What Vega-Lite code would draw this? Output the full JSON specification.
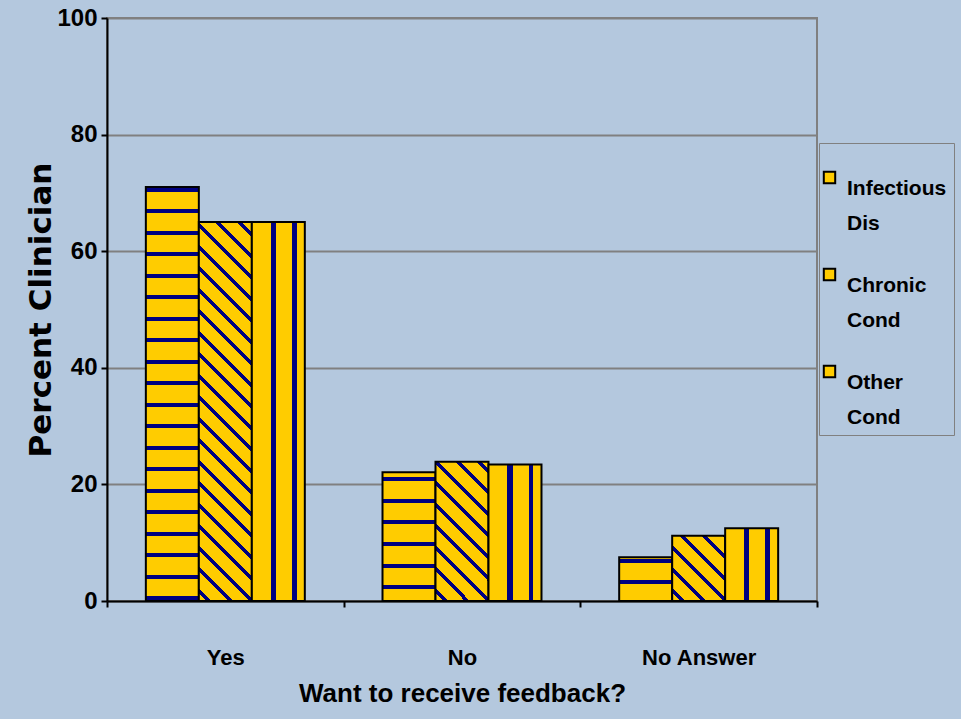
{
  "$schema": "https://vega.github.io/schema/vega-lite/v6.json",
  "autosize": "none",
  "width": 710,
  "height": 583,
  "padding": {"left": 107, "top": 18, "right": 144, "bottom": 118},
  "background": "#B4C8DE",
  "data": {
    "values": [
      {"answer": "Yes", "series": "Infectious Dis", "percent": 71},
      {"answer": "Yes", "series": "Chronic Cond", "percent": 65},
      {"answer": "Yes", "series": "Other Cond", "percent": 65},
      {"answer": "No", "series": "Infectious Dis", "percent": 22.1},
      {"answer": "No", "series": "Chronic Cond", "percent": 23.9},
      {"answer": "No", "series": "Other Cond", "percent": 23.4},
      {"answer": "No Answer", "series": "Infectious Dis", "percent": 7.5},
      {"answer": "No Answer", "series": "Chronic Cond", "percent": 11.2},
      {"answer": "No Answer", "series": "Other Cond", "percent": 12.5}
    ]
  },
  "mark": {"type": "bar", "stroke": "#000000", "strokeWidth": 2},
  "encoding": {
    "x": {
      "field": "answer", "type": "nominal", "sort": ["Yes", "No", "No Answer"],
      "scale": {"paddingInner": 0, "paddingOuter": 0},
      "axis": {
        "title": "Want to receive feedback?", "labelAngle": 0, "tickBand": "extent",
        "domainColor": "#000000", "domainWidth": 2, "tickColor": "#000000", "tickWidth": 2, "tickSize": 6,
        "labelFont": "Liberation Sans", "labelFontSize": 22, "labelFontWeight": "bold", "labelColor": "#000000",
        "labelBaseline": "alphabetic", "labelPadding": 57,
        "titleFont": "Liberation Sans", "titleFontSize": 26, "titleFontWeight": "bold", "titleColor": "#000000",
        "titleBaseline": "alphabetic", "titleY": 100
      }
    },
    "xOffset": {"field": "series", "type": "nominal", "sort": ["Infectious Dis", "Chronic Cond", "Other Cond"],
      "scale": {"paddingInner": 0, "paddingOuter": 0.733}},
    "y": {
      "field": "percent", "type": "quantitative",
      "scale": {"domain": [0, 100]},
      "axis": {
        "title": "Percent Clinician", "values": [0, 20, 40, 60, 80, 100],
        "grid": true, "gridColor": "#808080", "gridWidth": 2,
        "domainColor": "#000000", "domainWidth": 2, "tickColor": "#000000", "tickWidth": 2, "tickSize": 6,
        "labelFont": "Liberation Sans", "labelFontSize": 24, "labelFontWeight": "bold", "labelColor": "#000000", "labelPadding": 4,
        "titleFont": "DejaVu Sans", "titleFontSize": 31, "titleFontWeight": "bold", "titleColor": "#000000",
        "titleBaseline": "alphabetic", "titleX": -57, "titleAngle": 270
      }
    },
    "fill": {
      "field": "series", "type": "nominal",
      "scale": {"domain": ["Infectious Dis", "Chronic Cond", "Other Cond"], "range": ["#FFCC00", "#FFCC00", "#FFCC00"]},
      "legend": {
        "orient": "none", "legendX": 712, "legendY": 125,
        "title": " ", "titleFontSize": 14, "titlePadding": 3,
        "padding": 7, "strokeColor": "#808080",
        "symbolType": "square", "symbolSize": 130, "symbolOffset": -7, "symbolStrokeColor": "#000000", "symbolStrokeWidth": 2,
        "labelOffset": 7, "labelBaseline": "top", "labelLimit": 200,
        "labelFont": "Liberation Sans", "labelFontSize": 21, "labelFontWeight": "bold", "labelColor": "#000000",
        "labelExpr": "split(datum.label, ' ')",
        "rowPadding": 30
      },
      "condition": [
        {"test": "datum.series === 'Other Cond'", "value": {"gradient": "linear", "x1": 0, "y1": 0, "x2": 1, "y2": 0, "stops": [
          {"offset": 0, "color": "#FFCC00"},
          {"offset": 0.358, "color": "#FFCC00"}, {"offset": 0.358, "color": "#000080"}, {"offset": 0.453, "color": "#000080"}, {"offset": 0.453, "color": "#FFCC00"},
          {"offset": 0.755, "color": "#FFCC00"}, {"offset": 0.755, "color": "#000080"}, {"offset": 0.849, "color": "#000080"}, {"offset": 0.849, "color": "#FFCC00"},
          {"offset": 1, "color": "#FFCC00"}
        ]}},
        {"test": "datum.series === 'Infectious Dis' && datum.answer === 'Yes'", "value": {"gradient": "linear", "x1": 0, "y1": 0, "x2": 0, "y2": 1, "stops": [
          {"offset": 0, "color": "#FFCC00"},
          {"offset": 0.0012, "color": "#FFCC00"}, {"offset": 0.0012, "color": "#000080"}, {"offset": 0.0109, "color": "#000080"}, {"offset": 0.0109, "color": "#FFCC00"},
          {"offset": 0.0532, "color": "#FFCC00"}, {"offset": 0.0532, "color": "#000080"}, {"offset": 0.0628, "color": "#000080"}, {"offset": 0.0628, "color": "#FFCC00"},
          {"offset": 0.1051, "color": "#FFCC00"}, {"offset": 0.1051, "color": "#000080"}, {"offset": 0.1148, "color": "#000080"}, {"offset": 0.1148, "color": "#FFCC00"},
          {"offset": 0.1570, "color": "#FFCC00"}, {"offset": 0.1570, "color": "#000080"}, {"offset": 0.1667, "color": "#000080"}, {"offset": 0.1667, "color": "#FFCC00"},
          {"offset": 0.2090, "color": "#FFCC00"}, {"offset": 0.2090, "color": "#000080"}, {"offset": 0.2187, "color": "#000080"}, {"offset": 0.2187, "color": "#FFCC00"},
          {"offset": 0.2609, "color": "#FFCC00"}, {"offset": 0.2609, "color": "#000080"}, {"offset": 0.2706, "color": "#000080"}, {"offset": 0.2706, "color": "#FFCC00"},
          {"offset": 0.3129, "color": "#FFCC00"}, {"offset": 0.3129, "color": "#000080"}, {"offset": 0.3225, "color": "#000080"}, {"offset": 0.3225, "color": "#FFCC00"},
          {"offset": 0.3648, "color": "#FFCC00"}, {"offset": 0.3648, "color": "#000080"}, {"offset": 0.3745, "color": "#000080"}, {"offset": 0.3745, "color": "#FFCC00"},
          {"offset": 0.4168, "color": "#FFCC00"}, {"offset": 0.4168, "color": "#000080"}, {"offset": 0.4264, "color": "#000080"}, {"offset": 0.4264, "color": "#FFCC00"},
          {"offset": 0.4687, "color": "#FFCC00"}, {"offset": 0.4687, "color": "#000080"}, {"offset": 0.4784, "color": "#000080"}, {"offset": 0.4784, "color": "#FFCC00"},
          {"offset": 0.5207, "color": "#FFCC00"}, {"offset": 0.5207, "color": "#000080"}, {"offset": 0.5303, "color": "#000080"}, {"offset": 0.5303, "color": "#FFCC00"},
          {"offset": 0.5726, "color": "#FFCC00"}, {"offset": 0.5726, "color": "#000080"}, {"offset": 0.5823, "color": "#000080"}, {"offset": 0.5823, "color": "#FFCC00"},
          {"offset": 0.6245, "color": "#FFCC00"}, {"offset": 0.6245, "color": "#000080"}, {"offset": 0.6342, "color": "#000080"}, {"offset": 0.6342, "color": "#FFCC00"},
          {"offset": 0.6765, "color": "#FFCC00"}, {"offset": 0.6765, "color": "#000080"}, {"offset": 0.6862, "color": "#000080"}, {"offset": 0.6862, "color": "#FFCC00"},
          {"offset": 0.7284, "color": "#FFCC00"}, {"offset": 0.7284, "color": "#000080"}, {"offset": 0.7381, "color": "#000080"}, {"offset": 0.7381, "color": "#FFCC00"},
          {"offset": 0.7804, "color": "#FFCC00"}, {"offset": 0.7804, "color": "#000080"}, {"offset": 0.7900, "color": "#000080"}, {"offset": 0.7900, "color": "#FFCC00"},
          {"offset": 0.8323, "color": "#FFCC00"}, {"offset": 0.8323, "color": "#000080"}, {"offset": 0.8420, "color": "#000080"}, {"offset": 0.8420, "color": "#FFCC00"},
          {"offset": 0.8843, "color": "#FFCC00"}, {"offset": 0.8843, "color": "#000080"}, {"offset": 0.8939, "color": "#000080"}, {"offset": 0.8939, "color": "#FFCC00"},
          {"offset": 0.9362, "color": "#FFCC00"}, {"offset": 0.9362, "color": "#000080"}, {"offset": 0.9459, "color": "#000080"}, {"offset": 0.9459, "color": "#FFCC00"},
          {"offset": 0.9882, "color": "#FFCC00"}, {"offset": 0.9882, "color": "#000080"}, {"offset": 0.9978, "color": "#000080"}, {"offset": 0.9978, "color": "#FFCC00"},
          {"offset": 1, "color": "#FFCC00"}
        ]}},
        {"test": "datum.series === 'Infectious Dis' && datum.answer === 'No'", "value": {"gradient": "linear", "x1": 0, "y1": 0, "x2": 0, "y2": 1, "stops": [
          {"offset": 0, "color": "#FFCC00"},
          {"offset": 0.0388, "color": "#FFCC00"}, {"offset": 0.0388, "color": "#000080"}, {"offset": 0.0699, "color": "#000080"}, {"offset": 0.0699, "color": "#FFCC00"},
          {"offset": 0.2065, "color": "#FFCC00"}, {"offset": 0.2065, "color": "#000080"}, {"offset": 0.2376, "color": "#000080"}, {"offset": 0.2376, "color": "#FFCC00"},
          {"offset": 0.3742, "color": "#FFCC00"}, {"offset": 0.3742, "color": "#000080"}, {"offset": 0.4053, "color": "#000080"}, {"offset": 0.4053, "color": "#FFCC00"},
          {"offset": 0.5419, "color": "#FFCC00"}, {"offset": 0.5419, "color": "#000080"}, {"offset": 0.5730, "color": "#000080"}, {"offset": 0.5730, "color": "#FFCC00"},
          {"offset": 0.7096, "color": "#FFCC00"}, {"offset": 0.7096, "color": "#000080"}, {"offset": 0.7407, "color": "#000080"}, {"offset": 0.7407, "color": "#FFCC00"},
          {"offset": 0.8773, "color": "#FFCC00"}, {"offset": 0.8773, "color": "#000080"}, {"offset": 0.9084, "color": "#000080"}, {"offset": 0.9084, "color": "#FFCC00"},
          {"offset": 1, "color": "#FFCC00"}
        ]}},
        {"test": "datum.series === 'Infectious Dis'", "value": {"gradient": "linear", "x1": 0, "y1": 0, "x2": 0, "y2": 1, "stops": [
          {"offset": 0, "color": "#FFCC00"},
          {"offset": 0.0503, "color": "#FFCC00"}, {"offset": 0.0503, "color": "#000080"}, {"offset": 0.1419, "color": "#000080"}, {"offset": 0.1419, "color": "#FFCC00"},
          {"offset": 0.5126, "color": "#FFCC00"}, {"offset": 0.5126, "color": "#000080"}, {"offset": 0.6041, "color": "#000080"}, {"offset": 0.6041, "color": "#FFCC00"},
          {"offset": 1, "color": "#FFCC00"}
        ]}},
        {"test": "datum.series === 'Chronic Cond' && datum.answer === 'Yes'", "value": {"gradient": "linear", "x1": 0, "y1": 1, "x2": 0.1563, "y2": -0.118, "stops": [
          {"offset": 0, "color": "#FFCC00"},
          {"offset": 0.0185, "color": "#FFCC00"}, {"offset": 0.0185, "color": "#000080"}, {"offset": 0.0301, "color": "#000080"}, {"offset": 0.0301, "color": "#FFCC00"},
          {"offset": 0.0683, "color": "#FFCC00"}, {"offset": 0.0683, "color": "#000080"}, {"offset": 0.0799, "color": "#000080"}, {"offset": 0.0799, "color": "#FFCC00"},
          {"offset": 0.1181, "color": "#FFCC00"}, {"offset": 0.1181, "color": "#000080"}, {"offset": 0.1296, "color": "#000080"}, {"offset": 0.1296, "color": "#FFCC00"},
          {"offset": 0.1678, "color": "#FFCC00"}, {"offset": 0.1678, "color": "#000080"}, {"offset": 0.1794, "color": "#000080"}, {"offset": 0.1794, "color": "#FFCC00"},
          {"offset": 0.2176, "color": "#FFCC00"}, {"offset": 0.2176, "color": "#000080"}, {"offset": 0.2292, "color": "#000080"}, {"offset": 0.2292, "color": "#FFCC00"},
          {"offset": 0.2674, "color": "#FFCC00"}, {"offset": 0.2674, "color": "#000080"}, {"offset": 0.2789, "color": "#000080"}, {"offset": 0.2789, "color": "#FFCC00"},
          {"offset": 0.3171, "color": "#FFCC00"}, {"offset": 0.3171, "color": "#000080"}, {"offset": 0.3287, "color": "#000080"}, {"offset": 0.3287, "color": "#FFCC00"},
          {"offset": 0.3669, "color": "#FFCC00"}, {"offset": 0.3669, "color": "#000080"}, {"offset": 0.3785, "color": "#000080"}, {"offset": 0.3785, "color": "#FFCC00"},
          {"offset": 0.4167, "color": "#FFCC00"}, {"offset": 0.4167, "color": "#000080"}, {"offset": 0.4282, "color": "#000080"}, {"offset": 0.4282, "color": "#FFCC00"},
          {"offset": 0.4664, "color": "#FFCC00"}, {"offset": 0.4664, "color": "#000080"}, {"offset": 0.4780, "color": "#000080"}, {"offset": 0.4780, "color": "#FFCC00"},
          {"offset": 0.5162, "color": "#FFCC00"}, {"offset": 0.5162, "color": "#000080"}, {"offset": 0.5278, "color": "#000080"}, {"offset": 0.5278, "color": "#FFCC00"},
          {"offset": 0.5660, "color": "#FFCC00"}, {"offset": 0.5660, "color": "#000080"}, {"offset": 0.5775, "color": "#000080"}, {"offset": 0.5775, "color": "#FFCC00"},
          {"offset": 0.6157, "color": "#FFCC00"}, {"offset": 0.6157, "color": "#000080"}, {"offset": 0.6273, "color": "#000080"}, {"offset": 0.6273, "color": "#FFCC00"},
          {"offset": 0.6655, "color": "#FFCC00"}, {"offset": 0.6655, "color": "#000080"}, {"offset": 0.6771, "color": "#000080"}, {"offset": 0.6771, "color": "#FFCC00"},
          {"offset": 0.7153, "color": "#FFCC00"}, {"offset": 0.7153, "color": "#000080"}, {"offset": 0.7269, "color": "#000080"}, {"offset": 0.7269, "color": "#FFCC00"},
          {"offset": 0.7650, "color": "#FFCC00"}, {"offset": 0.7650, "color": "#000080"}, {"offset": 0.7766, "color": "#000080"}, {"offset": 0.7766, "color": "#FFCC00"},
          {"offset": 0.8148, "color": "#FFCC00"}, {"offset": 0.8148, "color": "#000080"}, {"offset": 0.8264, "color": "#000080"}, {"offset": 0.8264, "color": "#FFCC00"},
          {"offset": 0.8646, "color": "#FFCC00"}, {"offset": 0.8646, "color": "#000080"}, {"offset": 0.8762, "color": "#000080"}, {"offset": 0.8762, "color": "#FFCC00"},
          {"offset": 0.9144, "color": "#FFCC00"}, {"offset": 0.9144, "color": "#000080"}, {"offset": 0.9259, "color": "#000080"}, {"offset": 0.9259, "color": "#FFCC00"},
          {"offset": 0.9641, "color": "#FFCC00"}, {"offset": 0.9641, "color": "#000080"}, {"offset": 0.9757, "color": "#000080"}, {"offset": 0.9757, "color": "#FFCC00"},
          {"offset": 1, "color": "#FFCC00"}
        ]}},
        {"test": "datum.series === 'Chronic Cond' && datum.answer === 'No'", "value": {"gradient": "linear", "x1": 0, "y1": 1, "x2": 0.4588, "y2": -0.2059, "stops": [
          {"offset": 0, "color": "#FFCC00"},
          {"offset": 0.0416, "color": "#FFCC00"}, {"offset": 0.0416, "color": "#000080"}, {"offset": 0.0676, "color": "#000080"}, {"offset": 0.0676, "color": "#FFCC00"},
          {"offset": 0.1534, "color": "#FFCC00"}, {"offset": 0.1534, "color": "#000080"}, {"offset": 0.1794, "color": "#000080"}, {"offset": 0.1794, "color": "#FFCC00"},
          {"offset": 0.2652, "color": "#FFCC00"}, {"offset": 0.2652, "color": "#000080"}, {"offset": 0.2912, "color": "#000080"}, {"offset": 0.2912, "color": "#FFCC00"},
          {"offset": 0.3770, "color": "#FFCC00"}, {"offset": 0.3770, "color": "#000080"}, {"offset": 0.4030, "color": "#000080"}, {"offset": 0.4030, "color": "#FFCC00"},
          {"offset": 0.4888, "color": "#FFCC00"}, {"offset": 0.4888, "color": "#000080"}, {"offset": 0.5148, "color": "#000080"}, {"offset": 0.5148, "color": "#FFCC00"},
          {"offset": 0.6006, "color": "#FFCC00"}, {"offset": 0.6006, "color": "#000080"}, {"offset": 0.6266, "color": "#000080"}, {"offset": 0.6266, "color": "#FFCC00"},
          {"offset": 0.7124, "color": "#FFCC00"}, {"offset": 0.7124, "color": "#000080"}, {"offset": 0.7384, "color": "#000080"}, {"offset": 0.7384, "color": "#FFCC00"},
          {"offset": 0.8242, "color": "#FFCC00"}, {"offset": 0.8242, "color": "#000080"}, {"offset": 0.8502, "color": "#000080"}, {"offset": 0.8502, "color": "#FFCC00"},
          {"offset": 0.9360, "color": "#FFCC00"}, {"offset": 0.9360, "color": "#000080"}, {"offset": 0.9620, "color": "#000080"}, {"offset": 0.9620, "color": "#FFCC00"},
          {"offset": 1, "color": "#FFCC00"}
        ]}},
        {"test": "datum.series === 'Chronic Cond'", "value": {"gradient": "linear", "x1": 0, "y1": 1, "x2": 0.8864, "y2": -0.0922, "stops": [
          {"offset": 0, "color": "#FFCC00"},
          {"offset": 0.0676, "color": "#FFCC00"}, {"offset": 0.0676, "color": "#000080"}, {"offset": 0.1099, "color": "#000080"}, {"offset": 0.1099, "color": "#FFCC00"},
          {"offset": 0.2494, "color": "#FFCC00"}, {"offset": 0.2494, "color": "#000080"}, {"offset": 0.2916, "color": "#000080"}, {"offset": 0.2916, "color": "#FFCC00"},
          {"offset": 0.4311, "color": "#FFCC00"}, {"offset": 0.4311, "color": "#000080"}, {"offset": 0.4734, "color": "#000080"}, {"offset": 0.4734, "color": "#FFCC00"},
          {"offset": 0.6128, "color": "#FFCC00"}, {"offset": 0.6128, "color": "#000080"}, {"offset": 0.6551, "color": "#000080"}, {"offset": 0.6551, "color": "#FFCC00"},
          {"offset": 0.7946, "color": "#FFCC00"}, {"offset": 0.7946, "color": "#000080"}, {"offset": 0.8369, "color": "#000080"}, {"offset": 0.8369, "color": "#FFCC00"},
          {"offset": 0.9763, "color": "#FFCC00"}, {"offset": 0.9763, "color": "#000080"}, {"offset": 1, "color": "#000080"}
        ]}}
      ]
    }
  },
  "config": {
    "view": {"stroke": "#808080", "strokeWidth": 2},
    "style": {"guide-label": {"lineHeight": 35}}
  }
}
